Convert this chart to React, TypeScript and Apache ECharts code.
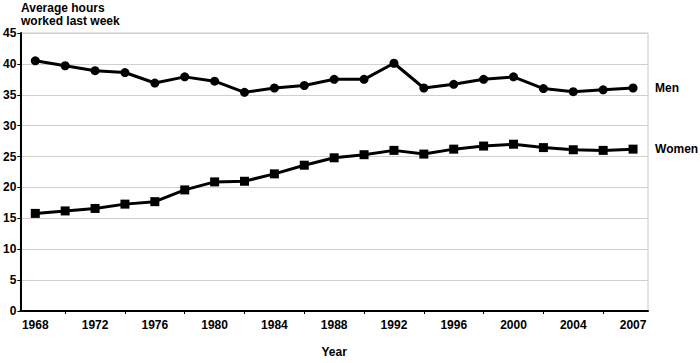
import React, { useEffect, useRef } from "react";
import * as echarts from "echarts";

const years = ["1968","1970","1972","1974","1976","1978","1980","1982","1984","1986","1988","1990","1992","1994","1996","1998","2000","2002","2004","2006","2007"];
const men = [40.5, 39.7, 38.9, 38.6, 36.9, 37.9, 37.2, 35.4, 36.1, 36.5, 37.5, 37.5, 40.1, 36.1, 36.7, 37.5, 37.9, 36.0, 35.5, 35.8, 36.1];
const women = [15.8, 16.2, 16.6, 17.3, 17.7, 19.6, 20.9, 21.0, 22.2, 23.6, 24.8, 25.3, 26.0, 25.4, 26.2, 26.7, 27.0, 26.45, 26.1, 26.0, 26.2];
const yTitle = "Average hours\nworked last week";
const xTitle = "Year";

const FONT = "'Liberation Sans', Arial, Helvetica, sans-serif";

export default function App() {
  const ref = useRef<HTMLDivElement>(null);
  useEffect(() => {
    if (!ref.current) return;
    const chart = echarts.init(ref.current, undefined, { renderer: "svg" });
    const lineSeries = (name: string, data: number[], symbol: string, size: number) => ({
      name,
      type: "line",
      data,
      symbol,
      symbolSize: size,
      showAllSymbol: true,
      lineStyle: { color: "#000", width: 3 },
      itemStyle: { color: "#000" },
      endLabel: {
        show: true,
        formatter: "{a}",
        distance: 22,
        color: "#000",
        fontFamily: FONT,
        fontWeight: "bold",
        fontSize: 12,
      },
    });
    chart.setOption({
      animation: false,
      backgroundColor: "#fff",
      textStyle: { fontFamily: FONT },
      title: {
        text: yTitle,
        left: 21,
        top: 0,
        padding: [1, 0, 0, 0],
        textStyle: { fontFamily: FONT, fontWeight: "bold", fontSize: 12, lineHeight: 13, color: "#000" },
      },
      grid: {
        left: 18,
        right: 52,
        top: 33,
        bottom: 42,
        show: true,
        borderColor: "#c8c8c8",
        borderWidth: 1,
      },
      xAxis: {
        type: "category",
        data: years,
        boundaryGap: true,
        name: xTitle,
        nameLocation: "middle",
        nameGap: 35,
        nameTextStyle: { fontFamily: FONT, fontWeight: "bold", fontSize: 12, color: "#000" },
        axisLine: { show: true, lineStyle: { color: "#000", width: 2 } },
        axisTick: {
          show: true,
          alignWithLabel: true,
          interval: (i: number) => i % 2 === 1,
          length: 3,
          lineStyle: { color: "#000" },
        },
        axisLabel: {
          interval: (i: number) => i % 2 === 0,
          color: "#000",
          fontFamily: FONT,
          fontWeight: "bold",
          fontSize: 12,
          margin: 8,
        },
        splitLine: { show: false },
      },
      yAxis: {
        type: "value",
        min: 0,
        max: 45,
        interval: 5,
        axisLine: { show: true, lineStyle: { color: "#000", width: 2 } },
        axisTick: { show: true, length: 3, lineStyle: { color: "#000" } },
        axisLabel: { color: "#000", fontFamily: FONT, fontWeight: "bold", fontSize: 12, margin: 4 },
        splitLine: { show: true, lineStyle: { color: "#d0d0d0", width: 1 } },
      },
      series: [
        lineSeries("Men", men, "circle", 9),
        lineSeries("Women", women, "rect", 9),
      ],
    });
    return () => chart.dispose();
  }, []);
  return (
    <div
      ref={ref}
      style={{ position: "fixed", left: 0, top: 0, width: 700, height: 363, background: "#fff" }}
    />
  );
}
